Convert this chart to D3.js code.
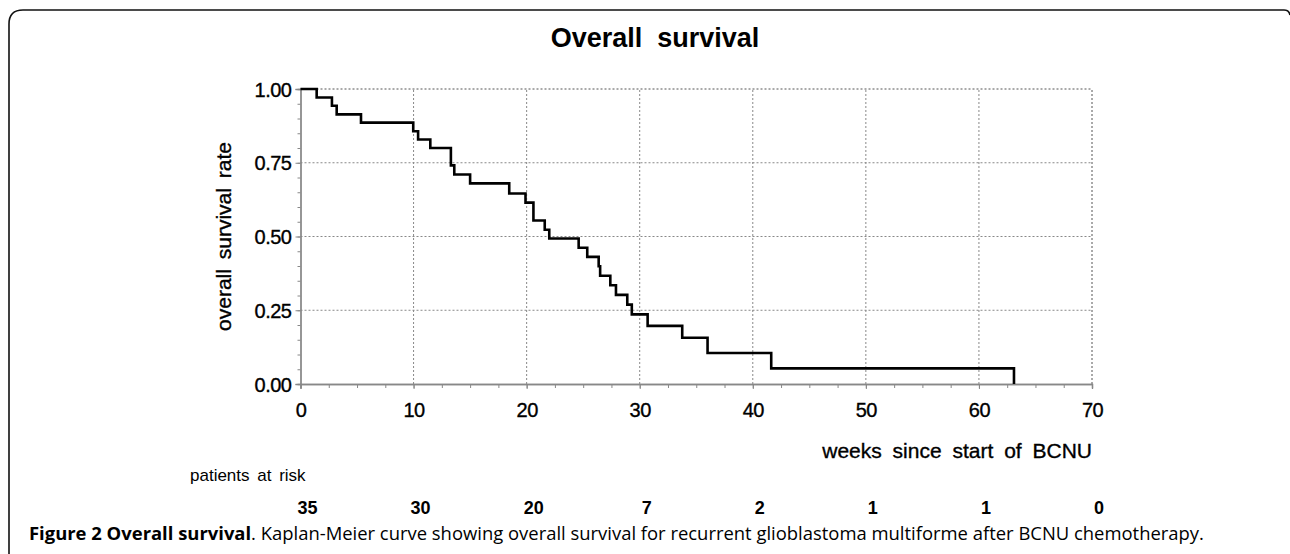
<!DOCTYPE html>
<html><head><meta charset="utf-8">
<script src="https://cdn.jsdelivr.net/npm/d3@7"></script>
<style>
html,body{margin:0;padding:0;background:#fff;}
svg{display:block;}
text{font-family:"Liberation Sans",Arial,sans-serif;fill:#000;}
.heavy{stroke:#000;stroke-width:0.35px;}
</style></head>
<body>
<script>
// Kaplan-Meier step data (weeks, survival after event)
const eventWeeks = [1.43, 2.78, 3.2, 5.35, 9.97, 10.4, 11.48, 13.3, 13.6, 15.0, 18.46, 19.9, 20.6, 21.6, 22.0, 24.6, 25.36, 26.37, 26.5, 27.4, 27.9, 28.9, 29.3, 30.7, 33.76, 36.0, 41.63, 63.1];
const survival   = [0.971, 0.943, 0.914, 0.886, 0.857, 0.829, 0.800, 0.741, 0.710, 0.680, 0.646, 0.615, 0.554, 0.523, 0.493, 0.462, 0.431, 0.399, 0.367, 0.335, 0.302, 0.269, 0.236, 0.197, 0.157, 0.105, 0.053, 0.0];
const xTicks = [0, 10, 20, 30, 40, 50, 60, 70];
const yTicks = [0, 0.25, 0.5, 0.75, 1.0];
const riskWeeks = [0, 10, 20, 30, 40, 50, 60, 70];
const riskCounts = [35, 30, 20, 7, 2, 1, 1, 0];

const W = 1290, H = 554;
const svg = d3.select("body").append("svg").attr("width", W).attr("height", H);

// frame
svg.append("path")
  .attr("d", "M9,560 L9,24 Q9,10 23,10 L1284,10 Q1289,10 1290,15")
  .attr("fill", "none").attr("stroke", "#111").attr("stroke-width", 1.6);

const x = d3.scaleLinear().domain([0, 70]).range([300.5, 1092]);
const y = d3.scaleLinear().domain([0, 1]).range([384, 89]);

const g = svg.append("g");

// grid
g.selectAll(".vg").data(xTicks.filter(d => d > 0)).join("line")
  .attr("x1", d => x(d)).attr("x2", d => x(d)).attr("y1", y(0)).attr("y2", y(1))
  .attr("stroke", d => d === 70 ? "#555" : "#888").attr("stroke-width", 1).attr("stroke-dasharray", "2,2");
g.selectAll(".hg").data(yTicks.filter(d => d > 0)).join("line")
  .attr("x1", x(0)).attr("x2", x(70)).attr("y1", d => y(d)).attr("y2", d => y(d))
  .attr("stroke", d => d === 1 ? "#555" : "#888").attr("stroke-width", 1).attr("stroke-dasharray", "2,2");

// axes
const fmt = d3.format(".2f");
const xMinor = d3.range(0, 70.01, 2.5);
const yMinor = d3.range(0, 1.001, 0.05);
const xAxisMinor = d3.axisBottom(x).tickValues(xMinor).tickSize(4).tickFormat("");
const xAxis = d3.axisBottom(x).tickValues(xTicks).tickSize(5).tickPadding(14).tickFormat(d3.format("d"));
const yAxisMinor = d3.axisLeft(y).tickValues(yMinor).tickSize(3).tickFormat("");
const yAxis = d3.axisLeft(y).tickValues(yTicks).tickSize(5).tickPadding(4).tickFormat(fmt);

function style(sel){
  sel.select(".domain").attr("stroke", "#888").attr("stroke-width", 1.3);
  sel.selectAll(".tick line").attr("stroke", "#888").attr("stroke-width", 1);
}
g.append("g").attr("transform", `translate(0,${y(0)})`).call(xAxisMinor).call(style);
const xa = g.append("g").attr("transform", `translate(0,${y(0)})`).call(xAxis).call(style);
xa.selectAll("text").attr("font-size", 20).attr("font-family", "Liberation Sans, Arial, sans-serif").attr("fill", "#000").attr("class", "heavy").attr("letter-spacing", "-0.5px");
g.append("g").attr("transform", `translate(${x(0)},0)`).call(yAxisMinor).call(style);
const ya = g.append("g").attr("transform", `translate(${x(0)},0)`).call(yAxis).call(style);
ya.selectAll("text").attr("font-size", 20).attr("font-family", "Liberation Sans, Arial, sans-serif").attr("fill", "#000").attr("dy", "0.36em").attr("class", "heavy").attr("letter-spacing", "-0.5px");

// curve
const pts = [[0, 1]].concat(eventWeeks.map((w, i) => [w, survival[i]]));
const line = d3.line().x(d => x(d[0])).y(d => y(d[1])).curve(d3.curveStepAfter);
g.append("path").datum(pts).attr("d", line)
  .attr("fill", "none").attr("stroke", "#000").attr("stroke-width", 2.6).attr("stroke-linejoin", "miter");

// title
svg.append("text").attr("x", 655).attr("y", 47).attr("text-anchor", "middle")
  .attr("font-size", 27).attr("font-weight", "bold").style("white-space", "pre").text("Overall  survival");

// y label
svg.append("text").attr("transform", `translate(231,${(y(0) + y(1)) / 2}) rotate(-90)`)
  .attr("class", "heavy")
  .attr("text-anchor", "middle").attr("font-size", 21).style("word-spacing", "4px").text("overall survival rate");

// x label
svg.append("text").attr("x", x(70)).attr("y", 458).attr("text-anchor", "end")
  .attr("class", "heavy")
  .attr("font-size", 21).style("word-spacing", "5px").text("weeks since start of BCNU");

// patients at risk
svg.append("text").attr("x", 190).attr("y", 481).attr("font-size", 17).style("word-spacing", "3px").text("patients at risk");
svg.selectAll(".risk").data(riskWeeks).join("text")
  .attr("x", d => x(d) + 7).attr("y", 514).attr("text-anchor", "middle")
  .attr("font-size", 18).attr("font-weight", "bold").text((d, i) => riskCounts[i]);

// caption
const cap = svg.append("text").attr("x", 29).attr("y", 540).attr("font-size", 17)
  .style("font-family", "'Open Sans', 'Noto Sans', sans-serif").attr("fill", "#111");
cap.append("tspan").attr("font-weight", "bold").text("Figure 2 Overall survival");
cap.append("tspan").text(". Kaplan-Meier curve showing overall survival for recurrent glioblastoma multiforme after BCNU chemotherapy.");
const len = cap.node().getComputedTextLength();
cap.attr("font-size", 17 * 1176 / len);
</script>
</body></html>
